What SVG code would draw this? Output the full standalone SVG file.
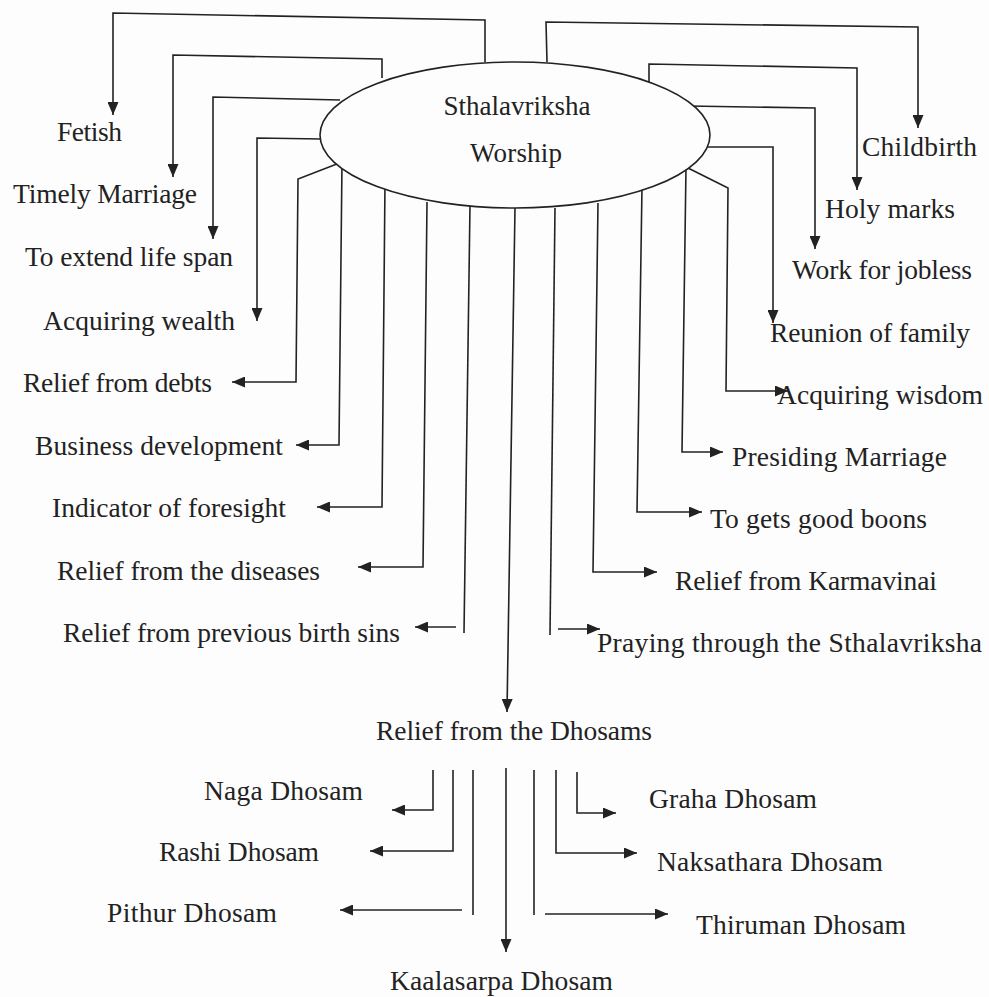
<svg xmlns="http://www.w3.org/2000/svg" width="989" height="997" viewBox="0 0 989 997">
<style>
.lbl{font-family:"Liberation Serif","Times New Roman",serif;font-size:27.5px;fill:#222}
.ctr{font-family:"Liberation Serif","Times New Roman",serif;font-size:27px;fill:#222;text-anchor:middle}
.ln{fill:none;stroke:#222;stroke-width:1.6}
.ar{fill:none;stroke:#222;stroke-width:1.6;marker-end:url(#ah)}
</style>
<defs>
<marker id="ah" markerUnits="userSpaceOnUse" markerWidth="13" markerHeight="11" refX="13" refY="5.5" orient="auto">
<path d="M0,0 L13,5.5 L0,11 z" fill="#222"/>
</marker>
</defs>
<rect width="989" height="997" fill="#fdfdfd"/>
<g id="connectors">
<polyline class="ar" points="485,62 485,20 113,13 113,115"/>
<polyline class="ar" points="382,78 382,59 173,55 173,177"/>
<polyline class="ar" points="340,100 213,97 213,239"/>
<polyline class="ar" points="322,139 257,138 257,321"/>
<polyline class="ar" points="342,162 298,179 296,382 232,382"/>
<polyline class="ar" points="342,162 339,445 296,445"/>
<polyline class="ar" points="385,182 382,507 317,507"/>
<polyline class="ar" points="427,202 423,567 358,567"/>
<line class="ln" x1="470" y1="205" x2="464" y2="633"/>
<line class="ar" x1="456" y1="627" x2="415" y2="627"/>
<polyline class="ar" points="547,62 546,22 918,27 918,128"/>
<polyline class="ar" points="649,83 649,64 857,68 857,190"/>
<polyline class="ar" points="688,106 815,108 815,249"/>
<polyline class="ar" points="708,147 773,147 773,323"/>
<polyline class="ar" points="686,167 728,188 726,391 788,391"/>
<polyline class="ar" points="686,167 682,452 723,452"/>
<polyline class="ar" points="642,187 637,512 702,512"/>
<polyline class="ar" points="598,203 593,572 657,572"/>
<line class="ln" x1="555" y1="208" x2="550" y2="635"/>
<line class="ar" x1="558" y1="629" x2="600" y2="629"/>
<line class="ar" x1="515" y1="208" x2="507" y2="712"/>
<polyline class="ar" points="433,770 433,810 392,810"/>
<polyline class="ar" points="453,770 453,851 370,851"/>
<line class="ln" x1="473" y1="770" x2="473" y2="915"/>
<line class="ar" x1="462" y1="910" x2="340" y2="910"/>
<line class="ar" x1="506" y1="768" x2="506" y2="952"/>
<line class="ln" x1="534" y1="770" x2="534" y2="915"/>
<line class="ar" x1="545" y1="914" x2="668" y2="914"/>
<polyline class="ar" points="556,770 556,853 637,853"/>
<polyline class="ar" points="577,772 577,813 616,813"/>
</g>
<g id="center">
<ellipse cx="515" cy="135" rx="195" ry="73" fill="#fdfdfd" stroke="#222" stroke-width="1.6"/>
<text class="ctr" x="517" y="115" textLength="147">Sthalavriksha</text>
<text class="ctr" x="516" y="162" textLength="92">Worship</text>
</g>
<g id="fetish"><text class="lbl" x="57" y="141" textLength="65">Fetish</text></g>
<g id="timely-marriage"><text class="lbl" x="13" y="203" textLength="184">Timely Marriage</text></g>
<g id="life-span"><text class="lbl" x="25" y="266" textLength="208">To extend life span</text></g>
<g id="wealth"><text class="lbl" x="43" y="330" textLength="192">Acquiring wealth</text></g>
<g id="debts"><text class="lbl" x="23" y="392" textLength="189">Relief from debts</text></g>
<g id="business"><text class="lbl" x="35" y="455" textLength="248">Business development</text></g>
<g id="foresight"><text class="lbl" x="52" y="517" textLength="234">Indicator of foresight</text></g>
<g id="diseases"><text class="lbl" x="57" y="580" textLength="263">Relief from the diseases</text></g>
<g id="previous-birth"><text class="lbl" x="63" y="642" textLength="337">Relief from previous birth sins</text></g>
<g id="childbirth"><text class="lbl" x="862" y="156" textLength="115">Childbirth</text></g>
<g id="holy-marks"><text class="lbl" x="825" y="218" textLength="130">Holy marks</text></g>
<g id="jobless"><text class="lbl" x="792" y="279" textLength="180">Work for jobless</text></g>
<g id="reunion"><text class="lbl" x="770" y="342" textLength="200">Reunion of family</text></g>
<g id="wisdom"><text class="lbl" x="777" y="404" textLength="206">Acquiring wisdom</text></g>
<g id="presiding"><text class="lbl" x="732" y="466" textLength="215">Presiding Marriage</text></g>
<g id="boons"><text class="lbl" x="710" y="528" textLength="217">To gets good boons</text></g>
<g id="karmavinai"><text class="lbl" x="675" y="590" textLength="262">Relief from Karmavinai</text></g>
<g id="praying"><text class="lbl" x="597" y="652" textLength="385">Praying through the Sthalavriksha</text></g>
<g id="dhosams"><text class="lbl" x="376" y="740" textLength="276">Relief from the Dhosams</text></g>
<g id="naga"><text class="lbl" x="204" y="800" textLength="159">Naga Dhosam</text></g>
<g id="rashi"><text class="lbl" x="159" y="861" textLength="160">Rashi Dhosam</text></g>
<g id="pithur"><text class="lbl" x="107" y="922" textLength="170">Pithur Dhosam</text></g>
<g id="kaalasarpa"><text class="lbl" x="390" y="990" textLength="223">Kaalasarpa Dhosam</text></g>
<g id="graha"><text class="lbl" x="649" y="808" textLength="168">Graha Dhosam</text></g>
<g id="naksathara"><text class="lbl" x="657" y="871" textLength="226">Naksathara Dhosam</text></g>
<g id="thiruman"><text class="lbl" x="696" y="934" textLength="210">Thiruman Dhosam</text></g>
</svg>
